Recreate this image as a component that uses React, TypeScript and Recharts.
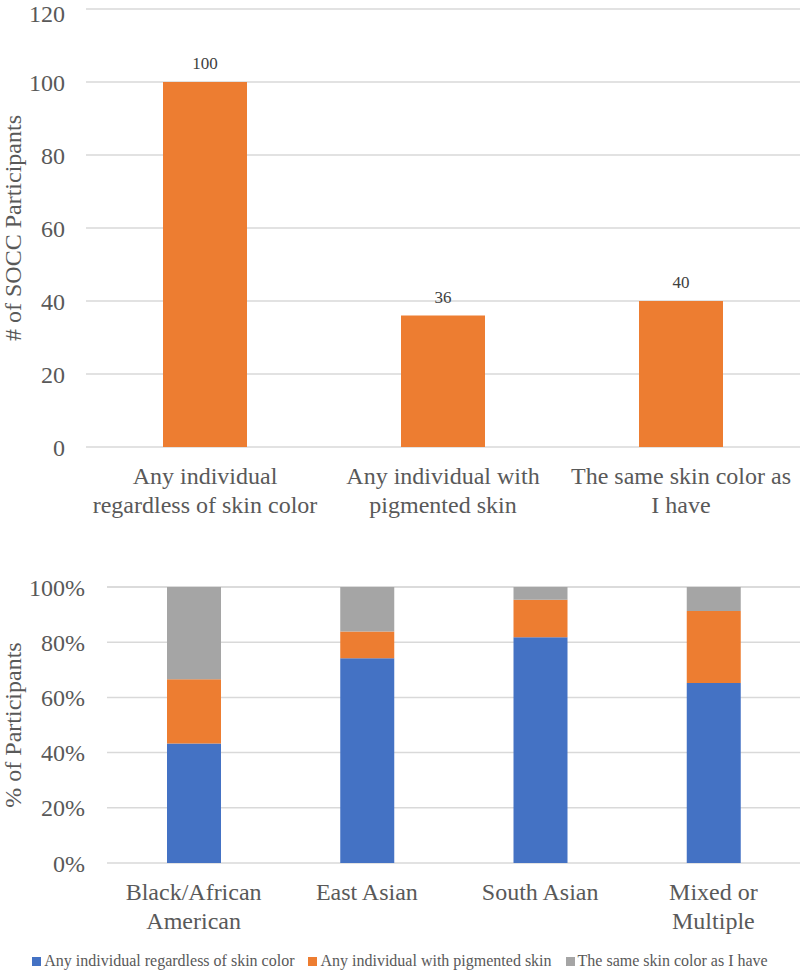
import { BarChart, Bar, XAxis, YAxis, CartesianGrid, LabelList, Legend } from "recharts";

const FONT = '"Liberation Serif", "Times New Roman", Times, serif';
const TEXT = "#595959";
const GRID = "#d9d9d9";
const ORANGE = "#ED7D31";
const BLUE = "#4472C4";
const GRAY = "#A5A5A5";

// top chart: who SOCC participants are comfortable with
const preferenceCategories = [
  "Any individual\nregardless of skin color",
  "Any individual with\npigmented skin",
  "The same skin color as\nI have",
];
const preferenceCounts = [100, 36, 40];
const countTicks = [0, 20, 40, 60, 80, 100, 120];

// bottom chart: share by ethnic group (%)
const groups = ["Black/African\nAmerican", "East Asian", "South Asian", "Mixed or\nMultiple"];
const anySkinPct = [43.3, 74.2, 81.8, 65.2];
const pigmentedPct = [23.3, 9.7, 13.6, 26.1];
const sameSkinPct = [33.4, 16.1, 4.6, 8.7];
const percentTicks = [0, 20, 40, 60, 80, 100];
const seriesNames = [
  "Any individual regardless of skin color",
  "Any individual with pigmented skin",
  "The same skin color as I have",
];

const countData = preferenceCategories.map((name, i) => ({ name, count: preferenceCounts[i] }));
const pctData = groups.map((name, i) => ({
  name,
  any: anySkinPct[i],
  pigmented: pigmentedPct[i],
  same: sameSkinPct[i],
}));

function WrappedTick({ x, y, payload }: any) {
  const lines = String(payload.value).split("\n");
  return (
    <text x={x} y={y} textAnchor="middle" fill={TEXT} fontSize={24} fontFamily={FONT}>
      {lines.map((line, i) => (
        <tspan key={i} x={x} dy={29}>
          {line}
        </tspan>
      ))}
    </text>
  );
}

function LegendContent({ payload }: any) {
  return (
    <div
      style={{
        display: "flex",
        justifyContent: "center",
        gap: 14,
        height: 18,
        lineHeight: "18px",
        fontFamily: FONT,
        fontSize: 16,
        color: TEXT,
        whiteSpace: "nowrap",
      }}
    >
      {(payload || []).map((p: any) => (
        <span key={p.value} style={{ display: "flex", alignItems: "center" }}>
          <span style={{ width: 9, height: 9, background: p.color, marginRight: 3, display: "inline-block" }} />
          {p.value}
        </span>
      ))}
    </div>
  );
}

const tickStyle = { fill: TEXT, fontSize: 24, fontFamily: FONT };

export default function App() {
  return (
    <div style={{ width: 800, height: 970, background: "#fff", fontFamily: FONT }}>
      <style>{`html, body { margin: 0 !important; }
html body svg text, html body svg tspan, html body div, html body span { font-family: "Liberation Serif", "Times New Roman", Times, serif !important; }`}</style>
      <BarChart width={800} height={540} data={countData} margin={{ top: 9, right: 0, bottom: 0, left: 0 }}>
        <CartesianGrid vertical={false} stroke={GRID} strokeWidth={1.5} />
        <XAxis dataKey="name" axisLine={false} tickLine={false} height={93} tick={<WrappedTick />} interval={0} />
        <YAxis
          domain={[0, 120]}
          ticks={countTicks}
          axisLine={false}
          tickLine={false}
          width={86}
          tickMargin={15}
          tick={tickStyle}
          label={{
            value: "# of SOCC Participants",
            angle: -90,
            position: "center",
            dx: -31,
            fill: TEXT,
            fontSize: 24,
            fontFamily: FONT,
          }}
        />
        <Bar dataKey="count" fill={ORANGE} barSize={84} isAnimationActive={false}>
          <LabelList dataKey="count" position="top" offset={13} fill="#404040" fontSize={17} fontFamily={FONT} />
        </Bar>
      </BarChart>
      <BarChart width={800} height={430} data={pctData} margin={{ top: 47, right: 0, bottom: 0, left: 0 }}>
        <CartesianGrid vertical={false} stroke={GRID} strokeWidth={1.5} />
        <XAxis dataKey="name" axisLine={false} tickLine={false} height={89} tick={<WrappedTick />} interval={0} />
        <YAxis
          domain={[0, 100]}
          ticks={percentTicks}
          tickFormatter={(v) => `${v}%`}
          axisLine={false}
          tickLine={false}
          width={107}
          tickMargin={16}
          tick={tickStyle}
          label={{
            value: "% of Participants",
            angle: -90,
            position: "center",
            dx: -41.5,
            fill: TEXT,
            fontSize: 24,
            fontFamily: FONT,
          }}
        />
        <Legend verticalAlign="bottom" content={<LegendContent />} wrapperStyle={{ left: 0, width: 800 }} />
        <Bar dataKey="any" name={seriesNames[0]} stackId="s" fill={BLUE} barSize={54} isAnimationActive={false} />
        <Bar dataKey="pigmented" name={seriesNames[1]} stackId="s" fill={ORANGE} barSize={54} isAnimationActive={false} />
        <Bar dataKey="same" name={seriesNames[2]} stackId="s" fill={GRAY} barSize={54} isAnimationActive={false} />
      </BarChart>
    </div>
  );
}
